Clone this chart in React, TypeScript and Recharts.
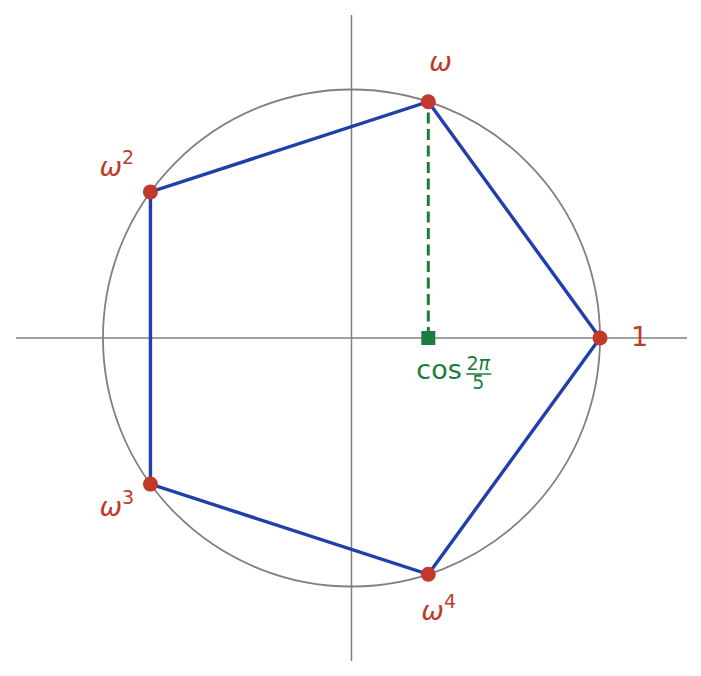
import React from 'react';
import {
    ComposedChart,
    Scatter,
    XAxis,
    YAxis,
    ReferenceLine,
    ReferenceDot
} from 'recharts';

// fifth roots of unity (unit circle)
const rootNames = ['1', 'ω', 'ω', 'ω', 'ω'];
const rootPowers = ['', '', '2', '3', '4'];
const rootX = [1, 0.309, -0.809, -0.809, 0.309];
const rootY = [0, 0.951, 0.588, -0.588, -0.951];

// foot of the dashed line: cos(2π/5)
const cosX = 0.309;

const xDomain = [-1.35, 1.35];
const yDomain = [-1.3, 1.3];

// label offsets in px from each vertex (style only)
const labelOffsets = [
    { dx: 31, dy: 8 },
    { dx: 1, dy: -31 },
    { dx: -51, dy: -16 },
    { dx: -51, dy: 32 },
    { dx: -7, dy: 46 }
];

const RED = '#c0392b';
const BLUE = '#1f3fab';
const GREEN = '#1a7d3d';
const GREY = '#808080';
const FONT = '"DejaVu Sans", sans-serif';

const CHART_W = 685;
const CHART_H = 660;
const MARGIN = { top: 7, right: 6, bottom: 7, left: 8 };
// pixels per unit, same on both axes
const UNIT = (CHART_W - MARGIN.left - MARGIN.right) / (xDomain[1] - xDomain[0]);

const vertices = rootX.map((x, i) => ({ x, y: rootY[i], i }));
const polygon = [...vertices, vertices[0]];

const VertexShape = (props: any) => {
    const { cx, cy, payload } = props;
    const i = payload.i;
    const off = labelOffsets[i];
    return (
        <g>
            <circle cx={cx} cy={cy} r={7.5} fill={RED} />
            <text
                x={cx + off.dx}
                y={cy + off.dy}
                fill={RED}
                fontFamily={FONT}
                fontSize={27}
                fontStyle={rootNames[i] === 'ω' ? 'italic' : 'normal'}
            >
                {rootNames[i]}
                {rootPowers[i] && (
                    <tspan dx={0} dy={-12} fontSize={19} fontStyle="normal">
                        {rootPowers[i]}
                    </tspan>
                )}
            </text>
        </g>
    );
};

const CircleShape = (props: any) => {
    const { cx, cy } = props;
    return <circle cx={cx} cy={cy} r={UNIT} fill="none" stroke={GREY} strokeWidth={1.8} />;
};

const CosShape = (props: any) => {
    const { cx, cy } = props;
    return (
        <g>
            <rect x={cx - 7} y={cy - 7} width={14} height={14} fill={GREEN} />
            <text x={cx - 12} y={cy + 41} fill={GREEN} fontFamily={FONT} fontSize={27}>
                cos
            </text>
            <text x={cx + 50} y={cy + 32} fill={GREEN} fontFamily={FONT} fontSize={19} textAnchor="middle">
                2<tspan fontStyle="italic">π</tspan>
            </text>
            <line x1={cx + 38} x2={cx + 63} y1={cy + 36} y2={cy + 36} stroke={GREEN} strokeWidth={1.5} />
            <text x={cx + 50} y={cy + 51} fill={GREEN} fontFamily={FONT} fontSize={19} textAnchor="middle">
                5
            </text>
        </g>
    );
};

const App: React.FC = () => {
    return (
        <ComposedChart width={CHART_W} height={CHART_H} margin={MARGIN}>
            <XAxis type="number" dataKey="x" domain={xDomain} allowDataOverflow hide />
            <YAxis type="number" dataKey="y" domain={yDomain} allowDataOverflow hide />
            <ReferenceLine y={0} stroke={GREY} strokeWidth={1.5} />
            <ReferenceLine x={0} stroke={GREY} strokeWidth={1.5} />
            <ReferenceDot x={0} y={0} r={1} shape={CircleShape} />
            <ReferenceLine
                segment={[{ x: cosX, y: 0 }, { x: rootX[1], y: rootY[1] }]}
                stroke={GREEN}
                strokeWidth={3}
                strokeDasharray="11 5.5"
            />
            <Scatter
                data={polygon}
                line={{ stroke: BLUE, strokeWidth: 3.4 }}
                lineType="joint"
                shape={() => <g />}
                isAnimationActive={false}
            />
            <Scatter data={vertices} shape={VertexShape} isAnimationActive={false} />
            <ReferenceDot x={cosX} y={0} r={1} shape={CosShape} />
        </ComposedChart>
    );
};

export default App;
